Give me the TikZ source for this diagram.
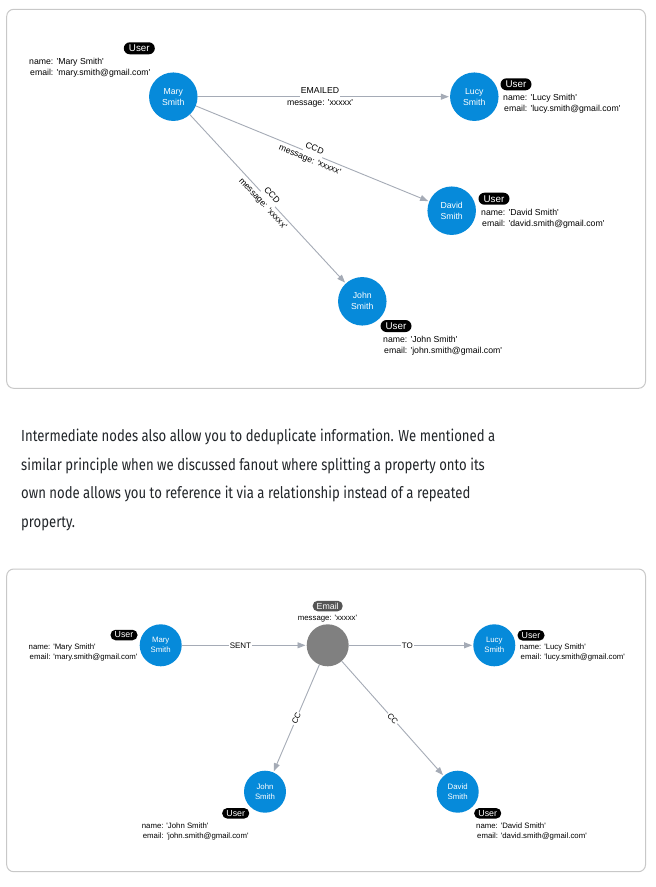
\documentclass[tikz,border=0pt]{standalone}
\usepackage{fontspec}
\setmainfont{Liberation Sans}
\newfontfamily\parafont[FakeStretch=0.82]{Fira Sans}
\usetikzlibrary{arrows.meta}
\definecolor{nblue}{RGB}{6,138,218}
\definecolor{egray}{RGB}{128,128,128}
\definecolor{bgray}{RGB}{85,85,85}
\definecolor{edgec}{RGB}{165,171,182}
\definecolor{framec}{RGB}{200,200,200}
\definecolor{ptext}{RGB}{33,37,41}
\newcommand{\sq}{\textquotesingle}
\begin{document}
\begin{tikzpicture}[x=1pt,y=-1pt,
  frame/.style={draw=framec, line width=1pt, rounded corners=7pt},
  personA/.style={circle, fill=nblue, minimum size=48.5pt, inner sep=0pt, text=white, align=center, font=\fontsize{8.7}{11}\selectfont},
  personB/.style={circle, fill=nblue, minimum size=42pt, inner sep=0pt, text=white, align=center, font=\fontsize{7.8}{10}\selectfont},
  emailnode/.style={circle, fill=egray, minimum size=42pt, inner sep=0pt},
  badgeA/.style={fill=black, text=white, rounded corners=6pt, minimum height=12pt, minimum width=31pt, inner sep=0pt, font=\fontsize{9.8}{10}\selectfont},
  badgeB/.style={fill=black, text=white, rounded corners=5pt, minimum height=10.5pt, minimum width=27pt, inner sep=0pt, font=\fontsize{8.8}{9}\selectfont},
  propsA/.style={anchor=north west, inner sep=0pt, align=left, font=\fontsize{8.7}{11}\selectfont},
  propsB/.style={anchor=north west, inner sep=0pt, align=left, font=\fontsize{7.8}{10}\selectfont},
  rel/.style={draw=edgec, line width=0.9pt, -{Triangle[length=8pt,width=6pt]}, shorten >=1pt},
  toplbl/.style={anchor=base, fill=white, inner xsep=1pt, inner ysep=0pt, text depth=2.5pt, font=\fontsize{8.7}{10}\selectfont},
  botlbl/.style={anchor=base, inner sep=0pt, font=\fontsize{8.7}{10}\selectfont},
  midlbl/.style={fill=white, inner xsep=1pt, inner ysep=1pt, font=\fontsize{8}{9}\selectfont},
  para/.style={anchor=base west, inner sep=0pt, text=ptext, font=\parafont\fontsize{16}{20}\selectfont}
]
\useasboundingbox (0,0) rectangle (656,887);
\fill[white] (0,0) rectangle (656,887);

% ---------- top diagram ----------
\draw[frame] (6.7,9.3) rectangle (645.5,388.3);

\node[personA] (mary) at (173.3,96.7) {Mary\\Smith};
\node[personA] (lucy) at (474.3,96.7) {Lucy\\Smith};
\node[personA] (david) at (451.7,210.7) {David\\Smith};
\node[personA] (john) at (362.3,301.3) {John\\Smith};

\node[badgeA] (maryb) at (139.3,48.3) {User};
\node[badgeA] (lucyb) at (516,84.3) {User};
\node[badgeA] (davidb) at (494,198.7) {User};
\node[badgeA] (johnb) at (396,326) {User};

\node[propsA] (maryp) at (29,58.4) {name: \sq Mary Smith\sq\\\hspace{1pt}email: \sq mary.smith@gmail.com\sq};
\node[propsA] (lucyp) at (503,94.4) {name: \sq Lucy Smith\sq\\\hspace{1pt}email: \sq lucy.smith@gmail.com\sq};
\node[propsA] (davidp) at (481,209) {name: \sq David Smith\sq\\\hspace{1pt}email: \sq david.smith@gmail.com\sq};
\node[propsA] (johnp) at (383,336) {name: \sq John Smith\sq\\\hspace{1pt}email: \sq john.smith@gmail.com\sq};

\draw[rel] (mary) -- (lucy)
  node[toplbl, pos=0.485] {\raisebox{3pt}{EMAILED}}
  node[botlbl, pos=0.485] {\raisebox{-9.2pt}{message: \sq xxxxx\sq}};
\draw[rel] (mary) -- (david)
  node[toplbl, sloped, pos=0.5] {\raisebox{3pt}{CCD}}
  node[botlbl, sloped, pos=0.5] {\raisebox{-9.2pt}{message: \sq xxxxx\sq}};
\draw[rel] (mary) -- (john)
  node[toplbl, sloped, pos=0.5] {\raisebox{3pt}{CCD}}
  node[botlbl, sloped, pos=0.5] {\raisebox{-9.2pt}{message: \sq xxxxx\sq}};

% ---------- paragraph ----------
\node[para] (l1) at (21,441.5) {Intermediate nodes also allow you to deduplicate information. We mentioned a};
\node[para] (l2) at (21,470) {similar principle when we discussed fanout where splitting a property onto its};
\node[para] (l3) at (21,498.5) {own node allows you to reference it via a relationship instead of a repeated};
\node[para] (l4) at (21,527) {property.};

% ---------- bottom diagram ----------
\draw[frame] (6.7,569) rectangle (645.5,871.7);

\node[personB] (mary2) at (160.7,645.3) {Mary\\Smith};
\node[emailnode] (email) at (327.7,645.3) {};
\node[personB] (lucy2) at (494.3,645.3) {Lucy\\Smith};
\node[personB] (john2) at (265,791.7) {John\\Smith};
\node[personB] (david2) at (457.7,791.7) {David\\Smith};

\node[badgeB] (mary2b) at (124,635) {User};
\node[badgeB, fill=bgray, minimum width=30pt] (emailb) at (327.7,606) {Email};
\node[badgeB] (lucy2b) at (531,635.3) {User};
\node[badgeB] (john2b) at (235.7,813.3) {User};
\node[badgeB] (david2b) at (487.7,813.3) {User};

\node[inner sep=0pt, font=\fontsize{7.8}{10}\selectfont] (emailp) at (327.5,618.3) {message: \sq xxxxx\sq};
\node[propsB] (mary2p) at (28.5,644) {name: \sq Mary Smith\sq\\\hspace{1pt}email: \sq mary.smith@gmail.com\sq};
\node[propsB] (lucy2p) at (519.5,644) {name: \sq Lucy Smith\sq\\\hspace{1pt}email: \sq lucy.smith@gmail.com\sq};
\node[propsB] (john2p) at (141.7,822.2) {name: \sq John Smith\sq\\\hspace{1pt}email: \sq john.smith@gmail.com\sq};
\node[propsB] (david2p) at (476,822.2) {name: \sq David Smith\sq\\\hspace{1pt}email: \sq david.smith@gmail.com\sq};

\draw[rel] (mary2) -- (email) node[midlbl, pos=0.47] {SENT};
\draw[rel] (email) -- (lucy2) node[midlbl, pos=0.47] {TO};
\draw[rel] (email) -- (john2) node[midlbl, sloped, pos=0.5] {CC};
\draw[rel] (email) -- (david2) node[midlbl, sloped, pos=0.5] {CC};
\end{tikzpicture}
\end{document}
